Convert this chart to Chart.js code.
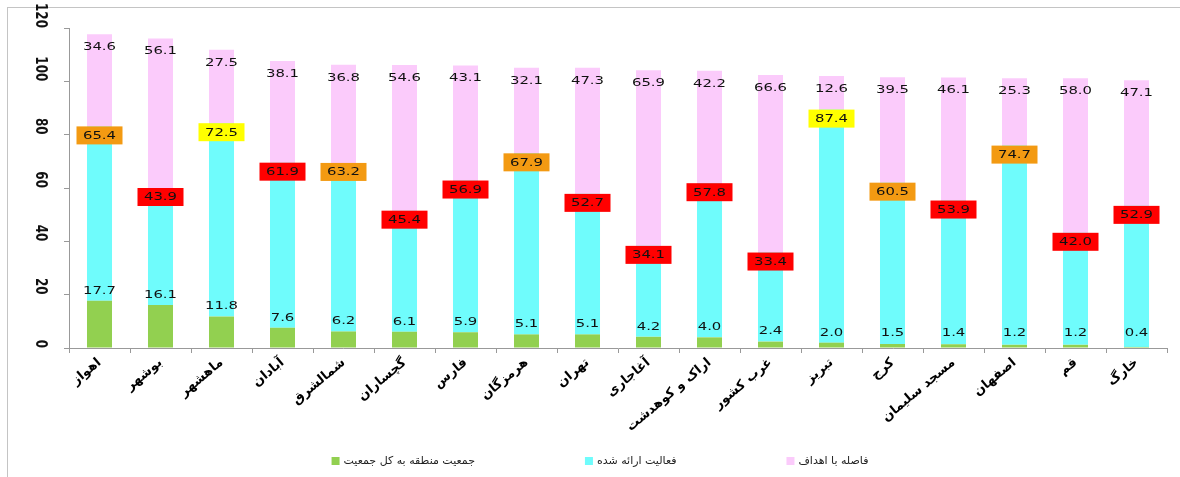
<!DOCTYPE html>
<html>
<head>
<meta charset="utf-8">
<script src="https://cdn.jsdelivr.net/npm/chart.js@4.4.1/dist/chart.umd.min.js"></script>
<style>
  body { margin: 0; background: #fff; }
  #wrap { position: relative; width: 1180px; height: 477px; overflow: hidden; }
  #frame { position: absolute; left: 7px; top: 7px; width: 1300px; height: 600px;
           border-left: 1px solid #c4c4c4; border-top: 1px solid #c4c4c4; }
  #myChart { position: absolute; left: 0; top: 0; }
</style>
</head>
<body>
<div id="wrap">
  <div id="frame"></div>
  <canvas id="myChart" width="1180" height="477"></canvas>
</div>
<script>
const cities = ['اهواز', 'بوشهر', 'ماهشهر', 'آبادان', 'شمالشرق', 'گچساران', 'فارس', 'هرمزگان', 'تهران',
  'آغاجاری', 'اراک و کوهدشت', 'غرب کشور', 'تبریز', 'کرج', 'مسجد سلیمان', 'اصفهان', 'قم', 'خارگ'];

// share of regional population in total population
const popShare = [17.7, 16.1, 11.8, 7.6, 6.2, 6.1, 5.9, 5.1, 5.1, 4.2, 4.0, 2.4, 2.0, 1.5, 1.4, 1.2, 1.2, 0.4];
// delivered activity
const activity = [65.4, 43.9, 72.5, 61.9, 63.2, 45.4, 56.9, 67.9, 52.7, 34.1, 57.8, 33.4, 87.4, 60.5, 53.9, 74.7, 42.0, 52.9];
// distance to targets
const gapToTarget = [34.6, 56.1, 27.5, 38.1, 36.8, 54.6, 43.1, 32.1, 47.3, 65.9, 42.2, 66.6, 12.6, 39.5, 46.1, 25.3, 58.0, 47.1];

const seriesNames = ['جمعیت منطقه به کل جمعیت', 'فعالیت ارائه شده', 'فاصله با اهداف'];
const activityTagColors = ['#f39a12', '#ff0000', '#ffff00', '#ff0000', '#f39a12', '#ff0000', '#ff0000', '#f39a12', '#ff0000',
  '#ff0000', '#ff0000', '#ff0000', '#ffff00', '#f39a12', '#ff0000', '#f39a12', '#ff0000', '#ff0000'];
const yTicks = [0, 20, 40, 60, 80, 100, 120];

const STRETCH = 1.35;
const VALUE_FONT = '11px "DejaVu Sans"';

function stretchedText(ctx, txt, x, y, font, align, sx) {
  ctx.save();
  ctx.font = font;
  ctx.textAlign = align || 'center';
  ctx.textBaseline = 'middle';
  ctx.translate(x, y);
  ctx.scale(sx || STRETCH, 1);
  ctx.fillText(txt, 0, 0);
  ctx.restore();
}

const valueLabels = {
  id: 'valueLabels',
  afterDatasetsDraw(chart) {
    const ctx = chart.ctx;
    const yScale = chart.scales.y;
    const base = yScale.getPixelForValue(0);
    const green = chart.getDatasetMeta(0).data;
    const cyan = chart.getDatasetMeta(1).data;
    const pink = chart.getDatasetMeta(2).data;
    ctx.save();
    for (let i = 0; i < cities.length; i++) {
      // population share, sitting just over the green block
      const gy = Math.min(green[i].y - 10, base - 15);
      ctx.fillStyle = '#111';
      stretchedText(ctx, popShare[i].toFixed(1), green[i].x, gy, VALUE_FONT);

      // activity tag with coloured box under the top of the cyan block
      const bx = cyan[i].x, by = cyan[i].y;
      ctx.fillStyle = activityTagColors[i];
      ctx.fillRect(bx - 23, by, 46, 18);
      ctx.fillStyle = '#111';
      stretchedText(ctx, activity[i].toFixed(1), bx, by + 9.5, VALUE_FONT);

      // gap to target, inside the top of the stack
      stretchedText(ctx, gapToTarget[i].toFixed(1), pink[i].x, pink[i].y + 13, VALUE_FONT);
    }
    ctx.restore();
  },
  afterDraw(chart) {
    const ctx = chart.ctx;
    const yScale = chart.scales.y;
    // rotated y tick labels
    ctx.save();
    ctx.fillStyle = '#111';
    ctx.font = 'bold 12px "DejaVu Sans"';
    ctx.textAlign = 'right';
    ctx.textBaseline = 'middle';
    yTicks.forEach(v => {
      ctx.save();
      ctx.translate(40, yScale.getPixelForValue(v));
      ctx.scale(STRETCH, 1);
      ctx.rotate(Math.PI / 2);
      ctx.fillText(String(v), 0, 0);
      ctx.restore();
    });
    ctx.restore();

    // legend row
    const font = '11px "DejaVu Sans"';
    ctx.save();
    ctx.font = font;
    const items = chart.data.datasets.map(ds => ({
      label: ds.label, color: ds.backgroundColor,
      w: 12 + ctx.measureText(ds.label).width
    }));
    const spacing = 110;
    const total = items.reduce((s, it) => s + it.w, 0) + spacing * (items.length - 1);
    let x = 600 - total / 2;
    const ly = 461;
    items.forEach(it => {
      ctx.fillStyle = it.color;
      ctx.fillRect(x, ly - 4, 8, 8);
      ctx.fillStyle = '#222';
      stretchedText(ctx, it.label, x + 12, ly, font, 'left', 1);
      x += it.w + spacing;
    });
    ctx.restore();
  }
};

const ctx = document.getElementById('myChart');
new Chart(ctx, {
  type: 'bar',
  data: {
    labels: cities,
    datasets: [
      { label: seriesNames[0], data: popShare, backgroundColor: '#92d050' },
      { label: seriesNames[1], data: activity, backgroundColor: '#6ffcfc' },
      { label: seriesNames[2], data: gapToTarget, backgroundColor: '#fbcbfb' }
    ]
  },
  options: {
    responsive: false,
    animation: false,
    layout: { padding: { left: 0, right: 13, top: 28, bottom: 39 } },
    datasets: { bar: { barPercentage: 0.41, categoryPercentage: 1 } },
    plugins: { legend: { display: false }, tooltip: { enabled: false } },
    scales: {
      x: {
        stacked: true,
        afterFit(scale) { scale.height = 90; },
        grid: { display: true, drawOnChartArea: false, offset: true, tickLength: 5, color: '#999' },
        border: { color: '#999' },
        ticks: {
          autoSkip: false, minRotation: 40, maxRotation: 40, padding: 2, color: '#000',
          font: { family: 'DejaVu Sans', size: 13, weight: 'bold' }
        }
      },
      y: {
        stacked: true,
        min: 0, max: 120,
        afterFit(scale) { scale.width = 69; },
        grid: { drawOnChartArea: false, tickLength: 5, color: '#999' },
        border: { color: '#999' },
        ticks: { stepSize: 20, display: false }
      }
    }
  },
  plugins: [valueLabels]
});
</script>
</body>
</html>
